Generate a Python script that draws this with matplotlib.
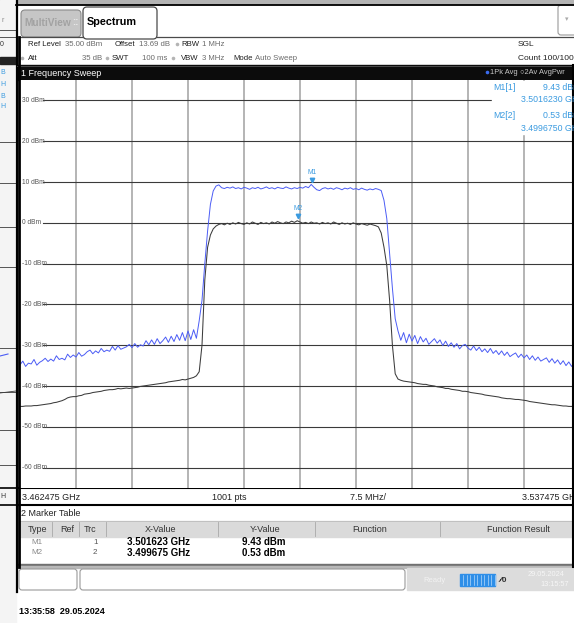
import matplotlib
matplotlib.use("Agg")
import matplotlib.pyplot as plt
import numpy as np
from matplotlib.patches import Rectangle, FancyBboxPatch

W, H = 574, 623

F_START = 3.462475  # GHz
F_STOP = 3.537475
REF_LEVEL = 35.0
LEVEL_BOTTOM = -65.0
Y_TICKS = [30, 20, 10, 0, -10, -20, -30, -40, -50, -60]

# trace 1: Pk Avg (blue), 201 sweep points
TRACE1_PK_AVG = [
    -34.8, -33.9, -35.2, -34.4, -34.6, -33.5, -34.9, -34.2, -33.8, -33.2,
    -34.0, -33.4, -33.9, -32.6, -33.5, -33.2, -33.6, -32.2, -33.0, -32.4,
    -32.9, -31.8, -32.7, -32.3, -31.6, -31.2, -32.1, -31.4, -31.9, -30.8,
    -31.6, -31.2, -31.5, -30.3, -31.2, -30.1, -31.0, -30.7, -30.4, -29.8,
    -30.6, -29.6, -30.5, -29.9, -30.2, -28.9, -29.9, -28.7, -29.8, -28.4,
    -29.6, -28.9, -28.0, -29.3, -27.8, -29.1, -27.4, -28.8, -26.9, -28.9,
    -26.5, -28.6, -26.2, -28.3, -24.0, -19.0, -10.0, -2.0, 4.5, 7.8,
    9.0, 9.3, 8.6, 8.4, 8.7, 8.5, 8.8, 8.4, 8.6, 8.3,
    8.7, 8.5, 8.2, 8.6, 8.4, 8.7, 8.3, 8.5, 8.8, 8.4,
    8.6, 8.3, 8.7, 8.5, 8.4, 8.8, 8.5, 8.3, 8.6, 8.4,
    8.7, 8.5, 8.9, 8.6, 9.4, 8.7, 8.1, 7.9, 8.4, 8.6,
    8.3, 8.5, 8.2, 8.6, 8.4, 8.1, 8.5, 8.3, 8.6, 8.2,
    8.4, 8.1, 8.5, 8.2, 8.0, 8.3, 8.1, 8.4, 8.2, 7.9,
    5.5, 1.0, -7.5, -16.0, -23.5, -26.5, -28.8, -26.9, -29.4, -27.3,
    -29.0, -27.6, -29.6, -27.9, -29.2, -28.3, -29.8, -29.1, -28.4, -29.5,
    -28.7, -30.1, -29.0, -30.3, -29.4, -30.5, -29.6, -30.9, -30.1, -29.8,
    -30.7, -31.2, -30.2, -31.3, -30.5, -31.6, -30.9, -31.8, -30.8, -32.0,
    -31.3, -32.3, -31.4, -32.5, -31.7, -32.8, -32.3, -31.9, -33.0, -32.2,
    -33.1, -32.4, -33.5, -32.6, -33.7, -32.9, -33.9, -33.5, -33.1, -34.2,
    -33.3, -34.4, -33.6, -34.7, -33.8, -35.0, -34.1, -35.2, -34.3, -35.3,
    -34.5,
]

# trace 2: Av AvgPwr (dark grey)
TRACE2_AV_PWR = [
    -45.0, -45.0, -44.9, -44.9, -44.9, -44.8, -44.8, -44.7, -44.6, -44.5,
    -44.4, -44.3, -44.1, -44.0, -43.8, -43.6, -43.3, -42.9, -42.7, -42.6,
    -42.6, -42.4, -42.3, -42.0, -41.9, -41.8, -41.6, -41.5, -41.4, -41.3,
    -41.1, -41.0, -40.9, -40.9, -40.8, -40.6, -40.7, -40.6, -40.5, -40.6,
    -40.5, -40.4, -40.3, -40.1, -40.0, -39.9, -39.8, -39.7, -39.6, -39.5,
    -39.4, -39.3, -39.2, -39.0, -38.9, -38.8, -38.7, -38.6, -38.4, -38.5,
    -38.3, -38.1, -37.9, -37.5, -36.5, -30.0, -14.0, -6.0, -3.0, -1.5,
    -0.8, -0.4, -0.2, -0.5, -0.1, -0.4, 0.0, -0.3, 0.1, -0.2,
    -0.4, 0.0, -0.3, 0.2, -0.1, -0.4, 0.1, -0.2, 0.0, -0.3,
    0.2, -0.1, 0.3, 0.0, -0.2, 0.2, 0.0, 0.4, 0.1, 0.5,
    0.2, -0.1, 0.1, -0.2, 0.2, -0.1, 0.0, -0.3, 0.1, -0.2,
    0.0, -0.3, 0.2, -0.1, -0.4, 0.0, -0.3, -0.1, -0.4, 0.0,
    -0.3, -0.5, -0.2, -0.4, -0.6, -0.3, -0.5, -0.7, -1.0, -2.5,
    -6.0, -10.5, -19.0, -30.0, -37.0, -38.3, -38.6, -38.8, -38.9, -39.0,
    -39.1, -39.2, -39.4, -39.5, -39.6, -39.6, -39.8, -39.9, -40.0, -40.2,
    -40.3, -40.4, -40.6, -40.6, -40.8, -40.9, -41.0, -41.1, -41.3, -41.3,
    -41.4, -41.6, -41.7, -41.8, -41.9, -42.0, -42.2, -42.3, -42.4, -42.5,
    -42.6, -42.7, -42.9, -43.0, -43.1, -43.1, -43.2, -43.3, -43.3, -43.4,
    -43.5, -43.6, -43.8, -43.9, -44.0, -44.1, -44.2, -44.3, -44.4, -44.5,
    -44.6, -44.6, -44.7, -44.8, -44.9, -44.9, -45.0, -45.0, -45.1, -45.1,
    -45.2,
]

MARKER_NAMES = ["M1", "M2"]
MARKER_TRACES = [1, 2]
MARKER_FREQS = [3.501623, 3.499675]
MARKER_LEVELS = [9.43, 0.53]
MARKER_FREQ_TEXT = ["3.5016230 GHz", "3.4996750 GHz"]
TABLE_FREQ_TEXT = ["3.501623 GHz", "3.499675 GHz"]

TABLE_HEADERS = ["Type", "Ref", "Trc", "X-Value", "Y-Value", "Function", "Function Result"]

BLUE = "#4b5cf5"
DARK = "#3c3c3c"
MARKER_BLUE = "#3b9be0"
FONT = ["Liberation Sans Narrow", "Liberation Sans", "DejaVu Sans"]

plt.rcParams["font.family"] = FONT


def px_axes(fig, z):
    ax = fig.add_axes([0, 0, 1, 1], zorder=z)
    ax.set_xlim(0, W)
    ax.set_ylim(H, 0)
    ax.axis("off")
    return ax


def txt(ax, x, y, s, size=6.0, color="#222222", weight="normal", ha="left", va="center"):
    ax.text(x, y, s, fontsize=size, color=color, fontweight=weight, ha=ha, va=va)


def dot(ax, x, y, color="#b4b4b4"):
    ax.plot(x, y, marker="o", ms=2.6, color=color, mec="none")


fig = plt.figure(figsize=(W / 100, H / 100), dpi=100)
fig.patch.set_facecolor("white")

bg = px_axes(fig, 0)

# top band and left strip (neighbouring window)
bg.add_patch(Rectangle((0, 0), W, 4, color="#b4b4b4"))
bg.plot([16, W], [4.5, 4.5], color="black", lw=1.3)
bg.add_patch(Rectangle((0, 0), 16, H, color="#f4f4f4"))
for y in [30, 37, 142, 183, 227, 267, 348, 392, 430, 465]:
    bg.plot([0, 16], [y, y], color="#555555", lw=0.7)
bg.add_patch(Rectangle((0, 57), 16, 7, color="#222222"))
for y, s in zip([72, 84, 96, 107], ["B", "H", "B", "H"]):
    txt(bg, 0, y, s, size=5, color="#3b9be0")
txt(bg, 1, 20, "r", size=5, color="#888888")
txt(bg, 0, 44, "0", size=5, color="#333333")
bg.plot([0, 8], [356, 354], color=BLUE, lw=0.8)
bg.plot([0, 16], [393, 391], color=DARK, lw=0.6)
txt(bg, 0, 496, "H", size=5, color="#333333")
bg.plot([0, 16], [488, 488], color="black", lw=1.2)
bg.plot([0, 16], [505, 505], color="black", lw=1.2)
bg.plot([16.5, 16.5], [0, 592], color="black", lw=1.6)

# tabs
bg.add_patch(FancyBboxPatch((21, 10), 60, 27, boxstyle="round,pad=0,rounding_size=4",
                            fc="#c6c6c6", ec="#8a8a8a", lw=0.8))
txt(bg, 24, 23, "MultiView", size=7.3, color="#a2a2a2", weight="bold")
txt(bg, 72, 22, "::", size=7, color="#e8e8e8", weight="bold")
bg.add_patch(FancyBboxPatch((83, 7), 74, 32, boxstyle="round,pad=0,rounding_size=4",
                            fc="white", ec="#4a4a4a", lw=0.9))
txt(bg, 87, 22, "Spectrum", size=7.8, color="black", weight="bold")
bg.plot([157, W], [36.5, 36.5], color="#4a4a4a", lw=0.9)
bg.plot([19, 83], [37, 37], color="#4a4a4a", lw=0.9)
bg.add_patch(FancyBboxPatch((558, 5), 22, 30, boxstyle="round,pad=0,rounding_size=3",
                            fc="white", ec="#9a9a9a", lw=0.8))
txt(bg, 565, 20, "▾", size=5, color="#aaaaaa")

# header settings: labels left aligned, values right aligned
row1, row2 = 44, 58
lab, val = "#1e1e1e", "#6a6a6a"
hs = 5.6
txt(bg, 28, row1, "Ref Level", size=hs, color=lab)
txt(bg, 102, row1, "35.00 dBm", size=hs, color=val, ha="right")
txt(bg, 115, row1, "Offset", size=hs, color=lab)
txt(bg, 170, row1, "13.69 dB", size=hs, color=val, ha="right")
dot(bg, 176.5, row1)
txt(bg, 181, row1, "RBW", size=hs, color=lab)
txt(bg, 202, row1, "1 MHz", size=hs, color=val)
dot(bg, 21.5, row2)
txt(bg, 28, row2, "Att", size=hs, color=lab)
txt(bg, 102, row2, "35 dB", size=hs, color=val, ha="right")
dot(bg, 106.5, row2)
txt(bg, 112, row2, "SWT", size=hs, color=lab)
txt(bg, 167, row2, "100 ms", size=hs, color=val, ha="right")
dot(bg, 172.5, row2)
txt(bg, 181, row2, "VBW", size=hs, color=lab)
txt(bg, 202, row2, "3 MHz", size=hs, color=val)
txt(bg, 233, row2, "Mode", size=hs, color=lab)
txt(bg, 255, row2, "Auto Sweep", size=hs, color=val)
txt(bg, 518, row1, "SGL", color="#222222")
txt(bg, 518, row2, "Count 100/100", color="#222222")

# sweep title bar
bg.add_patch(Rectangle((17, 65), W - 17, 15, color="#0c0c0c"))
bg.plot([17, W], [65.5, 65.5], color="#555555", lw=0.6)
txt(bg, 21, 73, "1 Frequency Sweep", size=6.5, color="white")
dot(bg, 487, 72, color="#3a6cf0")
txt(bg, 490, 72, "1Pk Avg", size=5.4, color="#c8c8c8")
txt(bg, 520, 72, "\u25CB2Av AvgPwr", size=5.4, color="#c8c8c8")

# frequency bar
bg.plot([17, W], [488, 488], color="black", lw=1.5)
bg.plot([17, W], [505, 505], color="black", lw=1.5)
fbar = 497
txt(bg, 22, fbar, f"{F_START:.6f} GHz", size=6.5, color="#222222")
txt(bg, 212, fbar, "1001 pts", size=6.5, color="#222222")
txt(bg, 350, fbar, "7.5 MHz/", size=6.5, color="#222222")
txt(bg, 522, fbar, f"{F_STOP:.6f} GHz", size=6.5, color="#222222")

# marker table
txt(bg, 21, 514, "2 Marker Table", size=6.5, color="#222222")
bg.add_patch(Rectangle((19, 521), W - 19, 16, color="#dadada"))
bg.plot([19, W], [521, 521], color="#bbbbbb", lw=0.6)
for x in [52, 79, 106, 218, 315, 440]:
    bg.plot([x, x], [522, 536], color="#a8a8a8", lw=0.6)
head_x = [37, 67, 90, 161, 265, 370, 518]
for x, s in zip(head_x, TABLE_HEADERS):
    txt(bg, x, 529, s, size=6.5, color="#333333", ha="center")
for k, name in enumerate(MARKER_NAMES):
    y = 542 + 11 * k
    txt(bg, 31, y, name, size=5.8, color="#888888")
    txt(bg, 93, y, str(MARKER_TRACES[k]), size=5.8, color="#555555")
    txt(bg, 127, y, TABLE_FREQ_TEXT[k], size=7, color="black", weight="bold")
    txt(bg, 242, y, f"{MARKER_LEVELS[k]:.2f} dBm", size=7, color="black", weight="bold")
bg.add_patch(Rectangle((17, 564), W - 17, 2, color="#707070"))
bg.add_patch(Rectangle((17, 566), W - 17, 2, color="#b8b8b8"))

# status bar
bg.add_patch(FancyBboxPatch((19, 569), 58, 21, boxstyle="round,pad=0,rounding_size=3",
                            fc="white", ec="#9a9a9a", lw=0.8))
bg.add_patch(FancyBboxPatch((80, 569), 325, 21, boxstyle="round,pad=0,rounding_size=3",
                            fc="white", ec="#9a9a9a", lw=0.8))
bg.add_patch(Rectangle((407, 568), W - 407, 22, color="#dcdcdc"))
txt(bg, 423, 580, "Ready", size=5.5, color="#f2f2f2")
bg.add_patch(Rectangle((460, 574), 35, 12, color="#2f8fe8"))
for x in np.arange(463, 495, 3.5):
    bg.plot([x, x], [575, 585], color="#d8ecff", lw=0.4)
txt(bg, 500, 580, "\u2044\u20440", size=6, color="#333333", weight="bold")
txt(bg, 528, 575, "29.05.2024", size=5.3, color="#f6f6f6")
txt(bg, 540, 585, "13:15:57", size=5.3, color="#f6f6f6")

txt(bg, 19, 611, "13:35:58  29.05.2024", size=6.5, color="black", weight="bold")

# spectrum diagram
ax = fig.add_axes([20 / W, (H - 488) / H, 560 / W, 408 / H], zorder=1)
ax.set_xlim(F_START, F_STOP)
ax.set_ylim(LEVEL_BOTTOM, REF_LEVEL)
ax.set_xticks([])
ax.set_yticks([])
for sp in ax.spines.values():
    sp.set_visible(False)

freq = np.linspace(F_START, F_STOP, len(TRACE1_PK_AVG))
div = (F_STOP - F_START) / 10
for k in range(1, 10):
    ax.axvline(F_START + k * div, color="#b4b4b4", lw=1.4, zorder=1)
for v in Y_TICKS:
    ax.axhline(v, xmin=23 / 560, color="#3a3a3a", lw=0.8, zorder=1)
    ax.text(2 / 560, v, f"{v} dBm", transform=ax.get_yaxis_transform(),
            fontsize=4.8, color="#555555", va="center", ha="left")

ax.plot(freq, TRACE2_AV_PWR, color=DARK, lw=0.75, zorder=2)
ax.plot(freq, TRACE1_PK_AVG, color=BLUE, lw=0.7, zorder=3)

for name, f, lvl in zip(MARKER_NAMES, MARKER_FREQS, MARKER_LEVELS):
    ax.plot(f, lvl + 1.1, marker="v", ms=3.2, color=MARKER_BLUE, zorder=4)
    ax.text(f, lvl + 2.9, name, fontsize=4.8, color=MARKER_BLUE, ha="center", va="center", zorder=4)

top = px_axes(fig, 3)
top.add_patch(Rectangle((492, 80.5), W - 492, 53, color="white"))
for k, name in enumerate(MARKER_NAMES):
    y0 = 87 + 28.5 * k
    txt(top, 493, y0, f"{name}[{MARKER_TRACES[k]}]", size=6.3, color=MARKER_BLUE)
    txt(top, 543, y0, f"{MARKER_LEVELS[k]:.2f} dBm", size=6.3, color=MARKER_BLUE)
    txt(top, 521, y0 + 13, MARKER_FREQ_TEXT[k], size=6.3, color=MARKER_BLUE)
top.plot([18.5, 18.5], [37, 567], color="black", lw=2)
top.plot([573, 573], [65, 567], color="black", lw=1.5)

fig.savefig("out.png", dpi=100)
